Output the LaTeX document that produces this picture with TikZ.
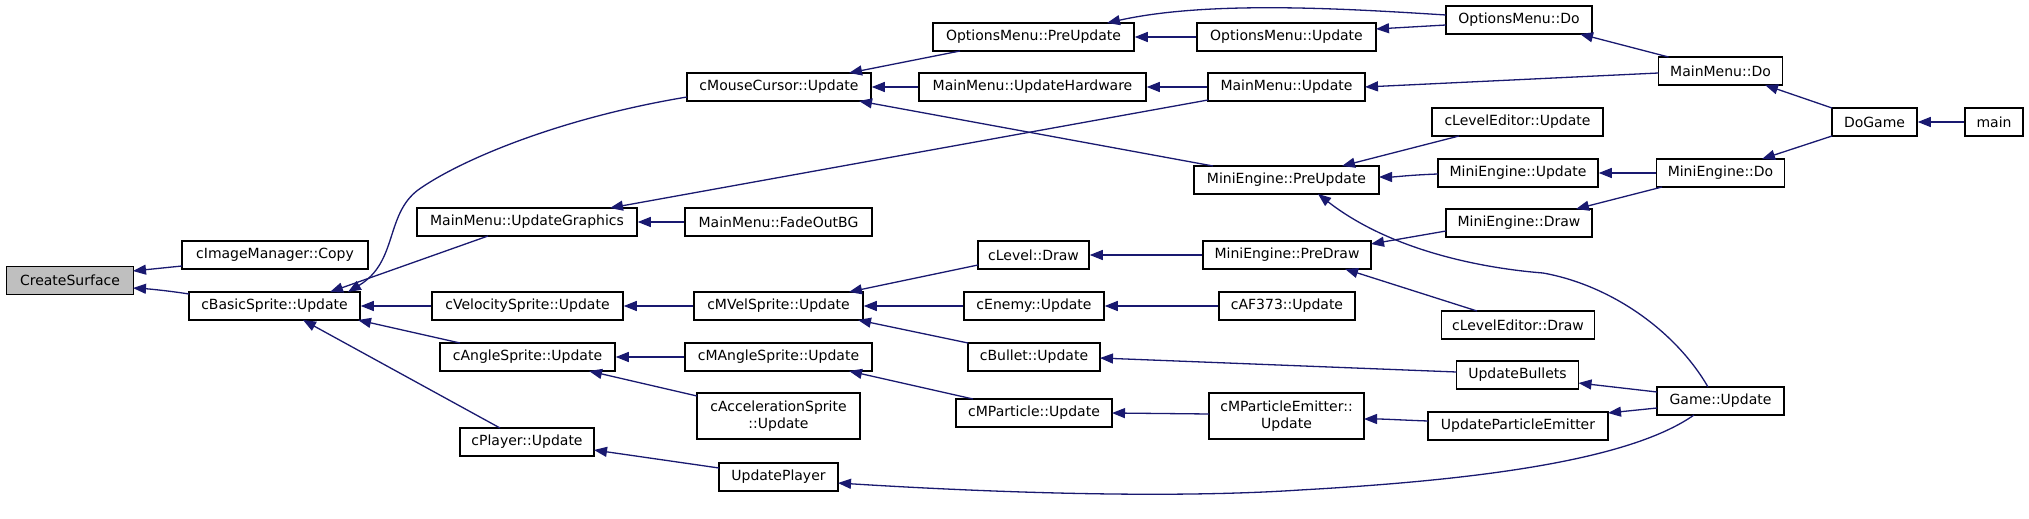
\documentclass[tikz,border=0pt]{standalone}
\usepackage{fontspec}
\newfontfamily\dvfont{DejaVu Sans}
\usetikzlibrary{arrows.meta,calc}
\definecolor{edgecol}{HTML}{191970}
\definecolor{rootfill}{HTML}{BFBFBF}
\begin{document}
\begin{tikzpicture}[x=1bp,y=-1bp,
  fn/.style={draw=black, line width=1.5bp, inner sep=0pt, fill=white,
    font=\dvfont\fontsize{14bp}{17bp}\selectfont, align=center, minimum height=28bp},
  tall/.style={minimum height=46bp},
  edge/.style={draw=edgecol, line width=1.3bp, -{Triangle[length=13bp,width=10bp]}}]
\fill[white] (0,0) rectangle (2029,519);
\useasboundingbox (0,0) rectangle (2029,519);

% column 0-1
\node[fn, fill=rootfill, minimum width=127bp] (CS) at (70,280.5) {CreateSurface};
\node[fn, minimum width=186bp] (IMC) at (275,255) {cImageManager::Copy};
\node[fn, minimum width=171bp] (BS) at (274.5,306) {cBasicSprite::Update};
% column 2
\node[fn, minimum width=220bp] (UG) at (527,222) {MainMenu::UpdateGraphics};
\node[fn, minimum width=191bp] (VS) at (527.5,306) {cVelocitySprite::Update};
\node[fn, minimum width=175bp] (AS) at (527.5,357) {cAngleSprite::Update};
\node[fn, minimum width=134bp] (PL) at (527,442) {cPlayer::Update};
% column 3
\node[fn, minimum width=184bp] (MC) at (779,87) {cMouseCursor::Update};
\node[fn, minimum width=187bp] (FO) at (778.5,222) {MainMenu::FadeOutBG};
\node[fn, minimum width=169bp] (MVS) at (778.5,306) {cMVelSprite::Update};
\node[fn, minimum width=187bp] (MAS) at (778.5,357) {cMAngleSprite::Update};
\node[fn, tall, minimum width=163bp] (ACC) at (778.5,416) {cAccelerationSprite\\::Update};
\node[fn, minimum width=119bp] (UP) at (778.5,477) {UpdatePlayer};
% column 4
\node[fn, minimum width=201bp] (OPU) at (1033.5,37) {OptionsMenu::PreUpdate};
\node[fn, minimum width=227bp] (UH) at (1032.5,87) {MainMenu::UpdateHardware};
\node[fn, minimum width=111bp] (LD) at (1033.5,255) {cLevel::Draw};
\node[fn, minimum width=140bp] (EU) at (1034,306) {cEnemy::Update};
\node[fn, minimum width=132bp] (BU) at (1034,357) {cBullet::Update};
\node[fn, minimum width=156bp] (MP) at (1034,413) {cMParticle::Update};
% column 5
\node[fn, minimum width=179bp] (OU) at (1286.5,37) {OptionsMenu::Update};
\node[fn, minimum width=157bp] (MU) at (1286.5,87) {MainMenu::Update};
\node[fn, minimum width=185bp] (MEPU) at (1286.5,180) {MiniEngine::PreUpdate};
\node[fn, minimum width=168bp] (MEPD) at (1287,255) {MiniEngine::PreDraw};
\node[fn, minimum width=136bp] (AF) at (1287,306) {cAF373::Update};
\node[fn, tall, minimum width=155bp] (MPE) at (1286.5,416) {cMParticleEmitter::\\Update};
% column 6
\node[fn, minimum width=146bp] (OD) at (1519,20) {OptionsMenu::Do};
\node[fn, minimum width=171bp] (LEU) at (1517.5,122) {cLevelEditor::Update};
\node[fn, minimum width=160bp] (MEU) at (1518,173) {MiniEngine::Update};
\node[fn, minimum width=146bp] (MEDR) at (1519,223) {MiniEngine::Draw};
\node[fn, minimum width=153bp] (LED) at (1518,325) {cLevelEditor::Draw};
\node[fn, minimum width=122bp] (UB) at (1517.5,375) {UpdateBullets};
\node[fn, minimum width=180bp] (UPE) at (1518,426) {UpdateParticleEmitter};
% column 7-9
\node[fn, minimum width=124bp] (MD) at (1720.5,71) {MainMenu::Do};
\node[fn, minimum width=128bp] (MED) at (1720.5,173) {MiniEngine::Do};
\node[fn, minimum width=127bp] (GU) at (1720.5,401) {Game::Update};
\node[fn, minimum width=85bp] (DG) at (1874.5,122) {DoGame};
\node[fn, minimum width=58bp] (MAIN) at (1994,122) {main};

% edges (caller -> callee)
\draw[edge] ($(IMC)+(-93,11)$) -- ($(CS)+(63,-9.5)$);
\draw[edge] ($(BS)+(-85.5,-12)$) .. controls (170,291) and (150,289) .. ($(CS)+(63,7.5)$);
\draw[edge] ($(MC)+(-92,10)$) .. controls (560,118) and (460,160) .. (418,190)
   .. controls (385,215) and (398,262) .. ($(BS)+(73.5,-14)$);
\draw[edge] ($(UG)+(-39,14)$) -- ($(BS)+(55.5,-14)$);
\draw[edge] (VS.west) -- (BS.east);
\draw[edge] ($(AS)+(-67.5,-14)$) -- ($(BS)+(83.5,14)$);
\draw[edge] ($(PL)+(-27,-14)$) -- ($(BS)+(28.5,14)$);
\draw[edge] ($(OPU)+(-73.5,14)$) -- ($(MC)+(70,-14)$);
\draw[edge] (UH.west) -- (MC.east);
\draw[edge] ($(MEPU)+(-73.5,-14)$) -- ($(MC)+(80,14)$);
\draw[edge] (OU.west) -- (OPU.east);
\draw[edge] ($(OD)+(-73,-5)$) .. controls (1350,9) and (1210,0) .. ($(OPU)+(73.5,-14)$);
\draw[edge] ($(OD)+(-73,5)$) -- ($(OU)+(89.5,-8)$);
\draw[edge] (MU.west) -- (UH.east);
\draw[edge] ($(MU)+(-78.5,13)$) -- ($(UG)+(83,-14)$);
\draw[edge] ($(MD)+(-52,-14)$) -- ($(OD)+(61,14)$);
\draw[edge] ($(MD)+(-62,2)$) -- ($(MU)+(78.5,0)$);
\draw[edge] ($(DG)+(-42.5,-14)$) -- ($(MD)+(44.5,14)$);
\draw[edge] ($(DG)+(-42.5,14)$) -- ($(MED)+(41.5,-14)$);
\draw[edge] (MAIN.west) -- (DG.east);
\draw[edge] ($(LEU)+(-58.5,14)$) -- ($(MEPU)+(55.5,-14)$);
\draw[edge] ($(MEU)+(-80,1)$) .. controls (1410,175) and (1395,177) .. ($(MEPU)+(92.5,-3)$);
\draw[edge] (MED.west) -- (MEU.east);
\draw[edge] ($(MED)+(-58.5,14)$) -- ($(MEDR)+(57,-14)$);
\draw[edge] ($(GU)+(-12.5,-14)$) .. controls (1675,330) and (1610,285) .. (1543,273)
   .. controls (1480,268) and (1390,250) .. ($(MEPU)+(31.5,14)$);
\draw[edge] ($(MEDR)+(-73,8)$) -- ($(MEPD)+(84,-11)$);
\draw[edge] ($(LED)+(-41,-14)$) -- ($(MEPD)+(58,14)$);
\draw[edge] (MEPD.west) -- (LD.east);
\draw[edge] ($(LD)+(-55.5,10)$) -- ($(MVS)+(70.5,-14)$);
\draw[edge] (EU.west) -- (MVS.east);
\draw[edge] ($(BU)+(-66,-14)$) -- ($(MVS)+(79.5,14)$);
\draw[edge] (AF.west) -- (EU.east);
\draw[edge] ($(UB)+(-61,-3)$) -- ($(BU)+(66,1)$);
\draw[edge] ($(GU)+(-63.5,-9)$) -- ($(UB)+(61,8)$);
\draw[edge] ($(GU)+(-63.5,7)$) -- ($(UPE)+(90,-13)$);
\draw[edge] ($(UPE)+(-90,-5)$) .. controls (1400,420) and (1385,419) .. ($(MPE)+(77.5,3)$);
\draw[edge] ($(MPE)+(-77.5,-2)$) -- ($(MP)+(78,0)$);
\draw[edge] ($(MP)+(-61,-14)$) -- ($(MAS)+(70.5,14)$);
\draw[edge] ($(GU)+(-26.5,14)$) .. controls (1630,460) and (1480,480) .. (1300,490)
   .. controls (1150,500) and (950,490) .. ($(UP)+(59.5,6)$);
\draw[edge] ($(UP)+(-59.5,-9)$) -- ($(PL)+(67,8)$);
\draw[edge] (MVS.west) -- (VS.east);
\draw[edge] (MAS.west) -- (AS.east);
\draw[edge] ($(ACC)+(-81.5,-20)$) -- ($(AS)+(61.5,14)$);
\draw[edge] (FO.west) -- (UG.east);
\end{tikzpicture}
\end{document}
